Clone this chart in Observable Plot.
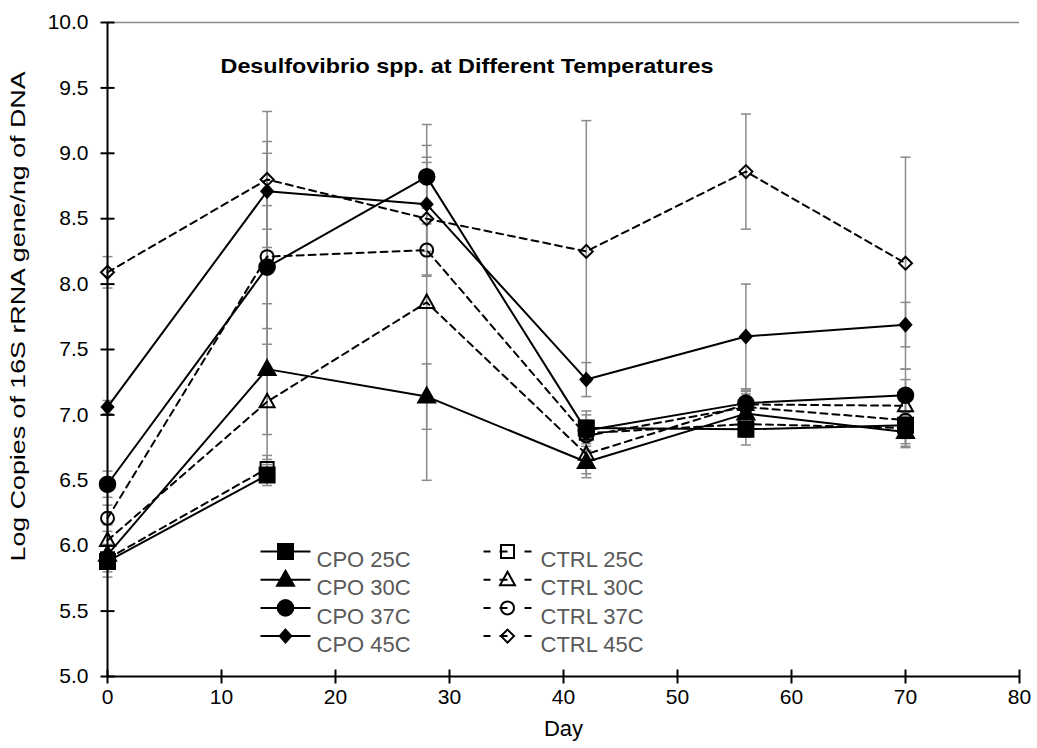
<!DOCTYPE html>
<html><head><meta charset="utf-8">
<script src="https://cdn.jsdelivr.net/npm/d3@7"></script>
<script src="https://cdn.jsdelivr.net/npm/@observablehq/plot@0.6"></script>
<style>
body{margin:0;background:#fff;}
#chart{width:1037px;height:748px;}
</style></head><body><div id="chart"></div>
<script>
// ---- data ----
const days = [0, 14, 28, 42, 56, 70];
const seriesNames = ["CPO 25C", "CPO 30C", "CPO 37C", "CPO 45C", "CTRL 25C", "CTRL 30C", "CTRL 37C", "CTRL 45C"];
const cpo25  = [5.88, 6.54, null, 6.90, 6.89, 6.92];
const cpo30  = [5.93, 7.35, 7.14, 6.64, 7.01, 6.87];
const cpo37  = [6.47, 8.13, 8.82, 6.88, 7.09, 7.15];
const cpo45  = [7.06, 8.71, 8.61, 7.27, 7.60, 7.69];
const ctrl25 = [5.90, 6.59, null, 6.86, 6.93, 6.90];
const ctrl30 = [6.04, 7.10, 7.86, 6.70, 7.08, 7.07];
const ctrl37 = [6.21, 8.21, 8.26, 6.84, 7.06, 6.96];
const ctrl45 = [8.09, 8.80, 8.50, 8.25, 8.86, 8.16];
const cpo25Err  = [0.12, 0.08, null, 0.10, 0.12, 0.10];
const cpo30Err  = [0.08, 0.50, 0.25, 0.12, 0.15, 0.12];
const cpo37Err  = [0.10, 0.47, 0.24, 0.15, 0.10, 0.20];
const cpo45Err  = [0.05, 0.29, 0.36, 0.13, 0.40, 0.17];
const ctrl25Err = [0.10, 0.10, null, 0.08, 0.10, 0.12];
const ctrl30Err = [0.12, 0.44, 1.36, 0.15, 0.10, 0.20];
const ctrl37Err = [0.10, 0.88, 0.20, 0.12, 0.12, 0.20];
const ctrl45Err = [0.12, 0.52, 0.43, 1.00, 0.44, 0.81];
const xTicks = [0, 10, 20, 30, 40, 50, 60, 70, 80];
const yTicks = [5.0, 5.5, 6.0, 6.5, 7.0, 7.5, 8.0, 8.5, 9.0, 9.5, 10.0];
const chartTitle = "Desulfovibrio spp. at Different Temperatures";
const xLabel = "Day";
const yLabel = "Log Copies of 16S rRNA gene/ng of DNA";

const values = [cpo25, cpo30, cpo37, cpo45, ctrl25, ctrl30, ctrl37, ctrl45];
const errors = [cpo25Err, cpo30Err, cpo37Err, cpo45Err, ctrl25Err, ctrl30Err, ctrl37Err, ctrl45Err];

// ---- symbols ----
const S = {
  squareF: {draw(c){ c.rect(-7.5, -7.5, 15, 15); }},
  triF: {draw(c){ c.moveTo(0, -9); c.lineTo(8.5, 6); c.lineTo(-8.5, 6); c.closePath(); }},
  circF: {draw(c){ c.moveTo(7.8, 0); c.arc(0, 0, 7.8, 0, 2 * Math.PI); }},
  diaF: {draw(c){ c.moveTo(0, -6.5); c.lineTo(5.8, 0); c.lineTo(0, 6.5); c.lineTo(-5.8, 0); c.closePath(); }},
  squareO: {draw(c){ c.rect(-6.5, -6.5, 13, 13); }},
  triO: {draw(c){ c.moveTo(0, -8); c.lineTo(7.5, 5.5); c.lineTo(-7.5, 5.5); c.closePath(); }},
  circO: {draw(c){ c.moveTo(6.5, 0); c.arc(0, 0, 6.5, 0, 2 * Math.PI); }},
  diaO: {draw(c){ c.moveTo(0, -6.5); c.lineTo(6.5, 0); c.lineTo(0, 6.5); c.lineTo(-6.5, 0); c.closePath(); }}
};
const styleOf = [
  {sym: S.squareF, fill: "black", dash: null},
  {sym: S.triF, fill: "black", dash: null},
  {sym: S.circF, fill: "black", dash: null},
  {sym: S.diaF, fill: "black", dash: null},
  {sym: S.squareO, fill: "none", dash: "7,5"},
  {sym: S.triO, fill: "none", dash: "7,5"},
  {sym: S.circO, fill: "none", dash: "7,5"},
  {sym: S.diaO, fill: "none", dash: "7,5"}
];
const hTick = {draw(c){ c.moveTo(-7, 0); c.lineTo(7, 0); }};
const vTick = {draw(c){ c.moveTo(0, -7); c.lineTo(0, 7); }};
const cap = {draw(c){ c.moveTo(-5, 0); c.lineTo(5, 0); }};
const legSolid = {draw(c){ c.moveTo(-25, 0); c.lineTo(25, 0); }};
const legDash = {draw(c){ c.moveTo(-24, 0); c.lineTo(-17, 0); c.moveTo(-8, 0); c.lineTo(0, 0); c.moveTo(17, 0); c.lineTo(24, 0); }};

// ---- rows ----
const rows = [];
seriesNames.forEach((name, i) => {
  days.forEach((d, j) => {
    const v = values[i][j];
    rows.push({series: name, idx: i, day: d, value: v == null ? NaN : v, err: errors[i][j] == null ? NaN : errors[i][j]});
  });
});
const valid = rows.filter(r => !Number.isNaN(r.value));

const marks = [];
// frame top
marks.push(Plot.ruleY([yTicks[yTicks.length - 1]], {stroke: "#8a8a8a", strokeWidth: 1.5}));
// error bars
marks.push(Plot.ruleX(valid, {x: "day", y1: d => d.value - d.err, y2: d => d.value + d.err, stroke: "#8a8a8a", strokeWidth: 1.5}));
marks.push(Plot.dot(valid, {x: "day", y: d => d.value + d.err, symbol: cap, stroke: "#8a8a8a", strokeWidth: 1.5}));
marks.push(Plot.dot(valid, {x: "day", y: d => d.value - d.err, symbol: cap, stroke: "#8a8a8a", strokeWidth: 1.5}));
// lines
seriesNames.forEach((name, i) => {
  marks.push(Plot.line(rows.filter(r => r.idx === i), {x: "day", y: "value", stroke: "black", strokeWidth: 2, strokeDasharray: styleOf[i].dash}));
});
// markers
seriesNames.forEach((name, i) => {
  marks.push(Plot.dot(valid.filter(r => r.idx === i), {x: "day", y: "value", symbol: styleOf[i].sym, fill: styleOf[i].fill, stroke: "black", strokeWidth: 2}));
});
// axes
marks.push(Plot.ruleX([xTicks[0]], {stroke: "black", strokeWidth: 2}));
marks.push(Plot.ruleY([yTicks[0]], {stroke: "black", strokeWidth: 2}));
marks.push(Plot.dot(yTicks, {x: () => xTicks[0], y: d => d, symbol: hTick, stroke: "black", strokeWidth: 2}));
marks.push(Plot.dot(xTicks, {x: d => d, y: () => yTicks[0], symbol: vTick, stroke: "black", strokeWidth: 2}));
marks.push(Plot.axisX({ticks: xTicks, tickSize: 0, tickPadding: 13, fontSize: 21, tickFormat: d => String(d)}));
marks.push(Plot.axisY({ticks: yTicks, tickSize: 0, tickPadding: 19, fontSize: 21, tickFormat: d => d.toFixed(1)}));
// labels
marks.push(Plot.text([chartTitle], {frameAnchor: "top-left", dx: 113, dy: 36, textAnchor: "start", fontWeight: "bold", fontSize: 21}));
marks.push(Plot.text([xLabel], {frameAnchor: "bottom", dy: 59, fontSize: 22}));
marks.push(Plot.text([yLabel], {frameAnchor: "left", dx: -89, dy: -33, rotate: -90, textAnchor: "middle", fontSize: 21}));
// legend
seriesNames.forEach((name, i) => {
  const col = i < 4 ? 0 : 1, row = i % 4;
  const sx = col === 0 ? 178 : 400, tx = col === 0 ? 209 : 433, dy = 529 + row * 28.2;
  marks.push(Plot.dot([name], {frameAnchor: "top-left", dx: sx, dy, symbol: col === 0 ? legSolid : legDash, stroke: "black", strokeWidth: 2}));
  marks.push(Plot.dot([name], {frameAnchor: "top-left", dx: sx, dy, symbol: styleOf[i].sym, fill: styleOf[i].fill, stroke: "black", strokeWidth: 2}));
  marks.push(Plot.text([name], {frameAnchor: "top-left", dx: tx, dy, textAnchor: "start", fill: "#595959", fontSize: 22}));
});

const chart = Plot.plot({
  width: 1037, height: 748,
  marginTop: 22, marginRight: 18, marginBottom: 72, marginLeft: 107,
  x: {domain: [0, 80], label: null},
  y: {domain: [5, 10], label: null},
  style: {fontFamily: "'Liberation Sans', Arial, sans-serif", fontSize: "20px", color: "black", background: "white"},
  marks
});
// stretch the two long texts to the lengths they occupy in the reference
chart.querySelectorAll("text").forEach(t => {
  if (t.textContent === yLabel) { t.setAttribute("textLength", 490); t.setAttribute("lengthAdjust", "spacingAndGlyphs"); }
  if (t.textContent === chartTitle) { t.setAttribute("textLength", 493); t.setAttribute("lengthAdjust", "spacingAndGlyphs"); }
});
document.getElementById("chart").appendChild(chart);
</script></body></html>
